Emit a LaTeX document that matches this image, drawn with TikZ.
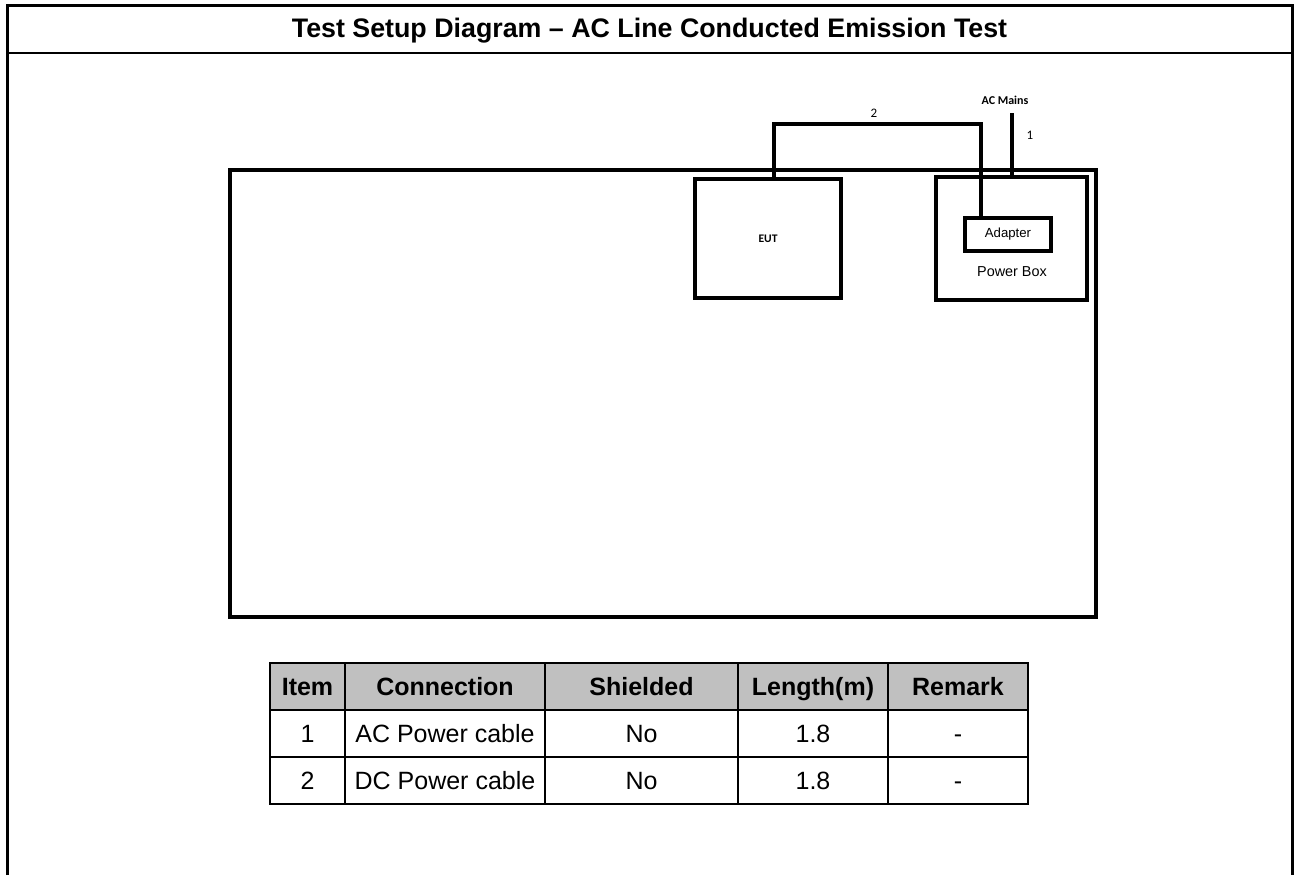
\documentclass[tikz,border=0pt]{standalone}
\usepackage{fontspec}
\setmainfont{Liberation Sans}
\newfontfamily\calfont{Carlito}
\usetikzlibrary{positioning}
\tikzset{
	box/.style={draw, line width=2pt, inner sep=0pt},
	cable/.style={line width=2pt},
	cell/.style={inner sep=0pt, text height=9pt, text depth=0pt, font=\fontsize{12.5}{14}\selectfont},
	hdr/.style={cell, font=\fontsize{12.5}{14}\selectfont\bfseries},
	lbl/.style={inner sep=0pt}
}
\definecolor{hdrgrey}{RGB}{192,192,192}
\begin{document}
\begin{tikzpicture}[x=0.5pt,y=-0.5pt]
	\useasboundingbox (0,0) rectangle (1296,875);
	% page frame and title
	\draw[line width=1.5pt] (7,875) -- (7,5) -- (1292,5) -- (1292,875);
	\draw[line width=1pt] (7,53) -- (1292,53);
	\node[lbl, text height=9.6pt, text depth=0pt, font=\fontsize{13.4}{15}\selectfont\bfseries] (title) at (649.5,28) {Test Setup Diagram -- AC Line Conducted Emission Test};
	% table (bench) and equipment
	\node[box, anchor=north west, minimum width=433pt, minimum height=223.5pt] (bench) at (228,168) {};
	\node[box, minimum width=73pt, minimum height=59.5pt, font=\calfont\fontsize{5.8}{7}\selectfont\bfseries] (eut) at (768,238.5) {EUT};
	\node[box, minimum width=75.5pt, minimum height=61.5pt] (pbox) at (1011.5,238.5) {};
	\node[box, minimum width=43pt, minimum height=16.5pt, font=\fontsize{6.6}{8}\selectfont] (adapter) at (1008,234.5) {Adapter};
	\node[lbl, font=\fontsize{7.2}{9}\selectfont] (pboxlbl) at (1012,272) {Power Box};
	% cable 2
	\coordinate (c2l) at (774,124);
	\coordinate (c2r) at (981,124);
	\draw[cable] (c2l |- eut.north) -- (c2l) -- (c2r) -- (c2r |- adapter.north);
	\node[lbl, font=\calfont\fontsize{6.5}{8}\selectfont] (two) at (874,113) {2};
	% cable 1
	\node[lbl, font=\calfont\fontsize{6}{7}\selectfont\bfseries] (mainslbl) at (1005,100) {AC Mains};
	\coordinate (mains) at (1012,113);
	\draw[cable] (mains) -- (mains |- pbox.north);
	\node[lbl, font=\calfont\fontsize{6.5}{8}\selectfont] (one) at (1030,135) {1};
	% cable list
	\fill[hdrgrey] (270,663) rectangle (1028,710);
	\draw[line width=0.6pt] (270,710) -- (1028,710) (270,757) -- (1028,757);
	\foreach \x in {345,545,738,888}
		\draw[line width=0.6pt] (\x,663) -- (\x,804);
	\draw[line width=1.2pt] (270,663) rectangle (1028,804);
	\foreach \cx/\txt [count=\i] in {307.5/Item,445/Connection,641.5/Shielded,813/Length(m),958/Remark}
		\node[hdr] (h\i) at (\cx,686.5) {\txt};
	\foreach \cx/\txt [count=\i] in {307.5/1,445/AC Power cable,641.5/No,813/1.8,958/-}
		\node[cell] (a\i) at (\cx,733.5) {\txt};
	\foreach \cx/\txt [count=\i] in {307.5/2,445/DC Power cable,641.5/No,813/1.8,958/-}
		\node[cell] (b\i) at (\cx,780.5) {\txt};
\end{tikzpicture}
\end{document}
